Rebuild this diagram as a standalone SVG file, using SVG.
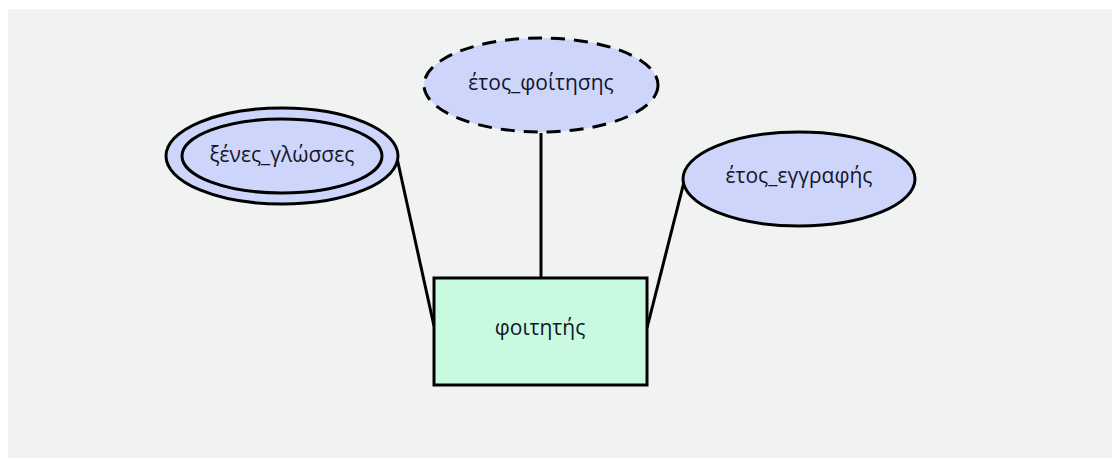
<svg xmlns="http://www.w3.org/2000/svg" width="1112" height="458" viewBox="0 0 1112 458">
<style>
.attr{fill:#CDD6FA;stroke:#000;stroke-width:3}
.ent{fill:#C8FAE0;stroke:#000;stroke-width:3}
.lbl{font-family:"Open Sans","Liberation Sans",sans-serif;font-size:21px;fill:#15152a;text-anchor:middle;dominant-baseline:central}
.conn{stroke:#000;stroke-width:3;fill:none}
</style>
<rect x="0" y="0" width="1112" height="458" fill="#ffffff"/>
<rect x="8" y="9" width="1104" height="449" fill="#F0F3F1"/>
<g id="connectors">
<line class="conn" x1="397" y1="158" x2="434" y2="326"/>
<line class="conn" x1="541" y1="133" x2="541" y2="278"/>
<line class="conn" x1="684" y1="182" x2="647" y2="328"/>
</g>
<g id="foititis">
<rect class="ent" x="434" y="278" width="213" height="107"/>
<text class="lbl" x="540" y="327">φοιτητής</text>
</g>
<g id="xenes_glosses">
<ellipse class="attr" cx="282" cy="156" rx="116" ry="48"/>
<ellipse class="attr" cx="282" cy="156" rx="100" ry="37"/>
<text class="lbl" x="282" y="154">ξένες_γλώσσες</text>
</g>
<g id="etos_foitisis">
<ellipse class="attr" cx="541" cy="85" rx="117" ry="47" stroke-dasharray="14,9"/>
<text class="lbl" x="541" y="82">έτος_φοίτησης</text>
</g>
<g id="etos_eggrafis">
<ellipse class="attr" cx="799" cy="179" rx="116" ry="47"/>
<text class="lbl" x="799" y="175">έτος_εγγραφής</text>
</g>
</svg>
